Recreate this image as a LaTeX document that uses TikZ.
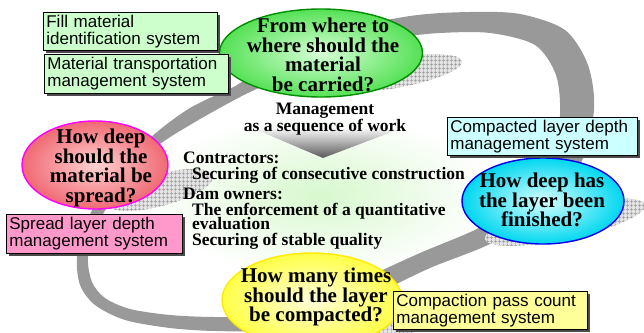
\documentclass[tikz,border=0pt]{standalone}
\usepackage{fontspec}
\setmainfont{Liberation Serif}
\setsansfont{Liberation Sans}
\usetikzlibrary{shapes.geometric,shadows,patterns.meta}

% fills for the ring, boxes and question ellipses
\definecolor{bandgray}{RGB}{153,153,153}
\definecolor{glowgreen}{RGB}{215,248,205}
\definecolor{boxgreen}{RGB}{204,255,204}
\definecolor{boxcyan}{RGB}{204,255,255}
\definecolor{boxpink}{RGB}{255,153,204}
\definecolor{boxyellow}{RGB}{255,255,153}
\definecolor{greenin}{RGB}{215,255,215}
\definecolor{greenout}{RGB}{85,225,85}
\definecolor{greenrim}{RGB}{0,140,0}
\definecolor{pinkin}{RGB}{255,210,210}
\definecolor{pinkout}{RGB}{240,105,115}
\definecolor{pinkrim}{RGB}{255,0,255}
\definecolor{cyanin}{RGB}{215,255,255}
\definecolor{cyanout}{RGB}{0,215,240}
\definecolor{cyanrim}{RGB}{0,0,235}
\definecolor{yellowin}{RGB}{255,255,220}
\definecolor{yellowout}{RGB}{255,255,70}
\definecolor{yellowrim}{RGB}{255,235,0}

\begin{document}
\begin{tikzpicture}[x=1pt,y=-1pt,
    sysbox/.style={draw=black, line width=0.7pt, anchor=north west,
      align=left, inner xsep=3pt, inner ysep=1pt,
      font=\sffamily\fontsize{17}{17}\selectfont,
      drop shadow={shadow xshift=3pt, shadow yshift=-3pt, fill=black!70, opacity=1}},
    question/.style={ellipse, line width=1.4pt, inner sep=0pt},
    qtext/.style={align=center, inner sep=0pt, font=\bfseries\fontsize{21}{19.5}\selectfont},
    hatchshadow/.style={fill=gray!22, postaction={pattern={Hatch[angle=0,distance=4pt,line width=0.4pt]}, pattern color=gray!80}}]

    \useasboundingbox (0,0) rectangle (644,332);
    \clip (0,0) rectangle (644,332);

    % soft green glow behind the middle text
    \shade[inner color=glowgreen, outer color=white] (320,195) ellipse [x radius=175pt, y radius=80pt];

    % the grey ring running round all four questions
    \fill[bandgray, even odd rule]
      plot[smooth cycle] coordinates {(77,257) (80,285) (95,305) (125,320) (170,328) (215,331) (270,330) (330,315)
        (380,292) (430,268) (490,244) (545,212) (580,165) (594,110) (588,65) (565,30) (520,14) (470,12)
        (410,16) (330,33) (270,62) (237,85) (190,108) (150,138) (110,180) (85,225)}
      plot[smooth cycle] coordinates {(88,257) (92,282) (105,298) (130,309) (170,315) (215,317) (265,315) (320,300)
        (372,275) (420,253) (479,228) (525,200) (552,160) (560,115) (556,75) (535,45) (490,33) (440,33)
        (395,38) (330,50) (275,80) (240,97) (195,122) (155,148) (122,185) (97,225)};

    % hatched shadows cast by the ellipses
    \path[hatchshadow, rotate around={10:(395,73)}] (395,73) ellipse [x radius=68pt, y radius=15pt];
    \path[hatchshadow, rotate around={15:(160,190)}] (160,190) ellipse [x radius=55pt, y radius=16pt];
    \path[hatchshadow, rotate around={12:(565,222)}] (565,222) ellipse [x radius=82pt, y radius=17pt];
    \path[hatchshadow, rotate around={10:(370,335)}] (370,335) ellipse [x radius=50pt, y radius=10pt];

    % pointer below the heading
    \shade[top color=white, bottom color=black!65] (250,127) -- (405,127) -- (323,158) -- cycle;

    % four questions
    \node[question, draw=greenrim, inner color=greenin, outer color=greenout,
      minimum width=203pt, minimum height=88pt] (carry) at (321,53) {};
    \node[question, draw=pinkrim, inner color=pinkin, outer color=pinkout,
      minimum width=146pt, minimum height=88pt] (spread) at (95,165) {};
    \node[question, draw=cyanrim, inner color=cyanin, outer color=cyanout,
      minimum width=162pt, minimum height=86pt] (finish) at (543,201) {};
    \node[question, draw=yellowrim, inner color=yellowin, outer color=yellowout,
      minimum width=180pt, minimum height=94pt] (compact) at (312,300) {};

    \node[qtext] (carrytext) at (323,55) {From where to\\where should the\\material\\be carried?};
    \node[qtext] (spreadtext) at (101,168) {How deep\\should the\\material be\\spread?};
    \node[qtext] (finishtext) at (542,200) {How deep has\\the layer been\\finished?};
    \node[qtext] (compacttext) at (316,297) {How many times\\should the layer\\be compacted?};

    % management systems
    \node[sysbox, fill=boxgreen, text width=168pt, minimum height=38pt] (fillid) at (43,12) {Fill material\\identification system};
    \node[sysbox, fill=boxgreen, text width=178pt, minimum height=39pt] (transport) at (44,54) {Material transportation\\management system};
    \node[sysbox, fill=boxcyan, text width=184pt, minimum height=38pt] (depthsys) at (447,117) {Compacted layer depth\\management system};
    \node[sysbox, fill=boxpink, text width=170pt, minimum height=39pt] (spreadsys) at (6,214) {Spread layer depth\\management system};
    \node[sysbox, fill=boxyellow, text width=188pt, minimum height=38pt] (passsys) at (393,291) {Compaction pass count\\management system};

    % middle text
    \node[align=center, inner sep=0pt, font=\bfseries\fontsize{17.5}{14}\selectfont] (heading) at (325,119) {Management\\as a sequence of work};
    \node[anchor=north west, align=left, inner sep=0pt, font=\bfseries\fontsize{17.5}{16}\selectfont] (roles) at (183,151.5)
      {Contractors:\\
       \hspace*{9pt}Securing of consecutive construction\\[4pt]
       Dam owners:\\
       \hspace*{9pt}The enforcement of a quantitative\\[-2pt]
       \hspace*{9pt}evaluation\\
       \hspace*{9pt}Securing of stable quality};
\end{tikzpicture}
\end{document}
